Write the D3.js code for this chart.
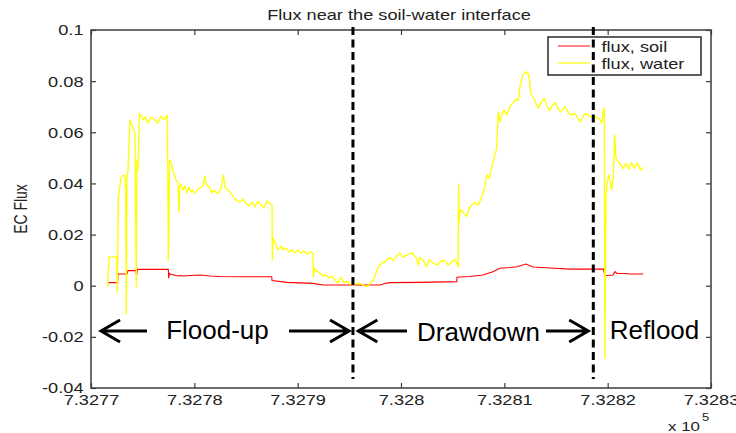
<!DOCTYPE html>
<html><head><meta charset="utf-8">
<script src="https://cdn.jsdelivr.net/npm/d3@7"></script>
<style>body{margin:0;background:#fff;} svg{display:block;font-family:Arial,"Liberation Sans",sans-serif;}</style>
</head><body><svg id="c" width="736" height="433"></svg>
<script>
const xTickValues = [7.3277,7.3278,7.3279,7.3280,7.3281,7.3282,7.3283];
const xTickLabels = ["7.3277","7.3278","7.3279","7.328","7.3281","7.3282","7.3283"];
const yTickValues = [-0.04,-0.02,0,0.02,0.04,0.06,0.08,0.1];
const yTickLabels = ["-0.04","-0.02","0","0.02","0.04","0.06","0.08","0.1"];
const seriesNames = ["flux, soil","flux, water"];

const waterX = [7.3277162,7.3277165,7.3277179,7.3277249,7.3277255,7.3277264,7.3277290,7.3277310,7.3277329,7.3277336,7.3277342,7.3277348,7.3277358,7.3277377,7.3277406,7.3277426,7.3277438,7.3277445,7.3277455,7.3277469,7.3277484,7.3277503,7.3277527,7.3277552,7.3277585,7.3277619,7.3277648,7.3277677,7.3277706,7.3277740,7.3277748,7.3277760,7.3277774,7.3277794,7.3277823,7.3277842,7.3277852,7.3277858,7.3277871,7.3277890,7.3277910,7.3277929,7.3277948,7.3277968,7.3277987,7.3278006,7.3278045,7.3278084,7.3278100,7.3278113,7.3278152,7.3278171,7.3278190,7.3278229,7.3278258,7.3278282,7.3278297,7.3278326,7.3278364,7.3278403,7.3278442,7.3278471,7.3278500,7.3278529,7.3278558,7.3278587,7.3278616,7.3278645,7.3278674,7.3278703,7.3278732,7.3278752,7.3278755,7.3278761,7.3278781,7.3278795,7.3278810,7.3278839,7.3278858,7.3278887,7.3278916,7.3278945,7.3278974,7.3279003,7.3279032,7.3279061,7.3279090,7.3279119,7.3279148,7.3279153,7.3279163,7.3279187,7.3279216,7.3279245,7.3279274,7.3279303,7.3279332,7.3279361,7.3279390,7.3279419,7.3279448,7.3279477,7.3279506,7.3279535,7.3279564,7.3279603,7.3279668,7.3279732,7.3279780,7.3279813,7.3279845,7.3279893,7.3279925,7.3279958,7.3279990,7.3280022,7.3280055,7.3280103,7.3280145,7.3280167,7.3280184,7.3280216,7.3280249,7.3280274,7.3280312,7.3280351,7.3280377,7.3280416,7.3280458,7.3280491,7.3280522,7.3280554,7.3280556,7.3280561,7.3280571,7.3280587,7.3280610,7.3280636,7.3280661,7.3280684,7.3280716,7.3280748,7.3280781,7.3280796,7.3280813,7.3280829,7.3280854,7.3280878,7.3280900,7.3280926,7.3280942,7.3280958,7.3280974,7.3280997,7.3281023,7.3281055,7.3281087,7.3281120,7.3281135,7.3281151,7.3281178,7.3281210,7.3281239,7.3281255,7.3281280,7.3281306,7.3281329,7.3281352,7.3281384,7.3281410,7.3281435,7.3281458,7.3281490,7.3281522,7.3281545,7.3281587,7.3281619,7.3281652,7.3281684,7.3281732,7.3281780,7.3281812,7.3281829,7.3281877,7.3281926,7.3281942,7.3281958,7.3281967,7.3281974,7.3281984,7.3281996,7.3282010,7.3282022,7.3282039,7.3282054,7.3282068,7.3282080,7.3282103,7.3282126,7.3282151,7.3282177,7.3282203,7.3282232,7.3282258,7.3282287,7.3282320,7.3282345];
const waterY = [-0.0004,0.0054,0.0113,0.0113,-0.0025,0.0343,0.0421,0.0433,0.0429,0.0374,-0.0111,0.0413,0.0452,0.0648,0.0617,0.0597,-0.0005,0.0491,0.0452,0.0674,0.0667,0.0648,0.0660,0.0636,0.0660,0.0648,0.0636,0.0664,0.0648,0.0667,0.0100,0.0491,0.0484,0.0452,0.0413,0.0402,0.0288,0.0386,0.0398,0.0374,0.0390,0.0362,0.0386,0.0366,0.0374,0.0362,0.0382,0.0390,0.0429,0.0398,0.0382,0.0362,0.0374,0.0359,0.0382,0.0433,0.0382,0.0374,0.0355,0.0335,0.0327,0.0339,0.0323,0.0312,0.0327,0.0308,0.0331,0.0316,0.0304,0.0331,0.0323,0.0316,0.0100,0.0187,0.0171,0.0155,0.0140,0.0155,0.0140,0.0147,0.0132,0.0140,0.0128,0.0140,0.0128,0.0136,0.0124,0.0132,0.0128,0.0035,0.0068,0.0057,0.0050,0.0038,0.0042,0.0030,0.0038,0.0022,0.0011,0.0034,0.0011,0.0018,0.0007,0.0003,0.0007,0.0009,-0.0004,0.0022,0.0074,0.0088,0.0094,0.0111,0.0098,0.0116,0.0127,0.0111,0.0120,0.0129,0.0111,0.0081,0.0111,0.0098,0.0074,0.0103,0.0088,0.0081,0.0094,0.0100,0.0081,0.0094,0.0103,0.0074,0.0398,0.0245,0.0296,0.0296,0.0283,0.0270,0.0303,0.0316,0.0325,0.0316,0.0348,0.0368,0.0387,0.0433,0.0420,0.0465,0.0498,0.0537,0.0680,0.0641,0.0667,0.0687,0.0667,0.0700,0.0719,0.0729,0.0726,0.0778,0.0824,0.0837,0.0824,0.0752,0.0737,0.0713,0.0694,0.0713,0.0733,0.0707,0.0684,0.0700,0.0716,0.0690,0.0680,0.0700,0.0676,0.0667,0.0674,0.0641,0.0674,0.0667,0.0661,0.0661,0.0651,0.0635,0.0687,0.0694,-0.0284,0.0348,0.0400,0.0433,0.0413,0.0374,0.0426,0.0589,0.0498,0.0485,0.0472,0.0459,0.0479,0.0455,0.0481,0.0459,0.0481,0.0452,0.0463];

const soilX = [7.3277167,7.3277258,7.3277261,7.3277348,7.3277358,7.3277433,7.3277442,7.3277448,7.3277748,7.3277752,7.3277758,7.3277774,7.3277803,7.3277842,7.3277861,7.3277890,7.3277958,7.3278055,7.3278152,7.3278248,7.3278442,7.3278749,7.3278752,7.3278897,7.3279148,7.3279245,7.3279797,7.3279845,7.3279893,7.3280184,7.3280539,7.3280542,7.3280571,7.3280668,7.3280793,7.3280890,7.3280958,7.3281055,7.3281122,7.3281210,7.3281277,7.3281442,7.3281635,7.3281958,7.3281974,7.3282051,7.3282071,7.3282090,7.3282168,7.3282216,7.3282345];
const soilY = [0.0012,0.0012,0.0046,0.0046,0.0059,0.0059,0.0042,0.0064,0.0064,0.0029,0.0048,0.0045,0.0042,0.0038,0.0040,0.0038,0.0040,0.0042,0.0038,0.0036,0.0035,0.0035,0.0020,0.0013,0.0009,0.0003,0.0003,0.0009,0.0012,0.0013,0.0016,0.0033,0.0034,0.0036,0.0042,0.0055,0.0068,0.0071,0.0074,0.0085,0.0073,0.0069,0.0065,0.0065,0.0039,0.0042,0.0055,0.0048,0.0048,0.0046,0.0046];

const phaseBoundaries = [7.3279535, 7.3281861];
const boundaryBottom = -0.0365;
const phaseLabels = ["Flood-up","Drawdown","Reflood"];
const phaseLabelX = [7.3278224, 7.3280750, 7.3282453];
const phaseLabelY = [-0.0208, -0.0218, -0.0208];
const arrowTipX  = [7.3277097, 7.3279497, 7.3279587, 7.3281812];
const arrowTailX = [7.3277542, 7.3278916, 7.3280058, 7.3281403];
const arrowY = -0.0177;

const svg = d3.select("#c");
const M = {l:91, t:30, r:711, b:388};
const x = d3.scaleLinear().domain([7.3277,7.3283]).range([M.l,M.r]);
const y = d3.scaleLinear().domain([-0.04,0.1]).range([M.b,M.t]);
const SX = 1.3;
const axisColor = "#3c3c3c";
const font = 'Arial,"Liberation Sans",sans-serif';

svg.append("rect").attr("width",736).attr("height",433).attr("fill","#fff");

// axes
const gx = svg.append("g").attr("transform",`translate(0,${M.b})`)
  .call(d3.axisBottom(x).tickValues(xTickValues).tickFormat((d,i)=>xTickLabels[i]).tickSizeInner(-5).tickSizeOuter(0));
const gy = svg.append("g").attr("transform",`translate(${M.l},0)`)
  .call(d3.axisLeft(y).tickValues(yTickValues).tickFormat((d,i)=>yTickLabels[i]).tickSizeInner(-5).tickSizeOuter(0));
const gt = svg.append("g").attr("transform",`translate(0,${M.t})`)
  .call(d3.axisTop(x).tickValues(xTickValues).tickFormat("").tickSizeInner(-5).tickSizeOuter(0));
const gr = svg.append("g").attr("transform",`translate(${M.r},0)`)
  .call(d3.axisRight(y).tickValues(yTickValues).tickFormat("").tickSizeInner(-5).tickSizeOuter(0));
[gx,gy,gt,gr].forEach(g=>{
  g.attr("font-family",font).attr("font-size",14);
  g.select(".domain").remove();
  g.selectAll("line").attr("stroke",axisColor).attr("stroke-width",1.2);
});
gx.selectAll("text").attr("y",0).attr("dy",0).attr("fill","#222")
  .attr("transform",`translate(0,17) scale(${SX},1)`);
gy.selectAll("text").attr("x",0).attr("dy","0.35em").attr("fill","#222")
  .attr("transform",`translate(-7.5,0) scale(${SX},1)`);
gt.selectAll("text").remove(); gr.selectAll("text").remove();

// frame
svg.append("rect").attr("x",M.l).attr("y",M.t).attr("width",M.r-M.l).attr("height",M.b-M.t)
  .attr("fill","none").attr("stroke",axisColor).attr("stroke-width",1.5);

// data lines
const line = (xs,ys)=> d3.line().x(i=>x(xs[i])).y(i=>y(ys[i]))(d3.range(Math.min(xs.length,ys.length)));
svg.append("path").attr("d",line(soilX,soilY)).attr("fill","none").attr("stroke","#ff0000").attr("stroke-width",1.1);
svg.append("path").attr("d",line(waterX,waterY)).attr("fill","none").attr("stroke","#ffff00").attr("stroke-width",1.3).attr("stroke-linejoin","round");

// title and labels
svg.append("text").attr("transform",`translate(399,19.5) scale(${SX},1)`).attr("text-anchor","middle")
  .attr("font-family",font).attr("font-size",14).attr("fill","#222").text("Flux near the soil-water interface");
svg.append("text").attr("transform",`translate(27,209) scale(${SX},1) rotate(-90)`).attr("text-anchor","middle")
  .attr("font-family",font).attr("font-size",14).attr("fill","#222").text("EC Flux");
svg.append("text").attr("transform",`translate(668,431) scale(${SX},1)`)
  .attr("font-family",font).attr("font-size",13).attr("fill","#222").text("x 10");
svg.append("text").attr("transform",`translate(702,421) scale(${SX},1)`)
  .attr("font-family",font).attr("font-size",10).attr("fill","#222").text("5");

// legend
const lg = svg.append("g");
lg.append("rect").attr("x",548).attr("y",37).attr("width",153).attr("height",38)
  .attr("fill","#fff").attr("stroke","#2a2a2a").attr("stroke-width",1.5);
const legColors = ["#ff3030","#ffff00"];
seriesNames.forEach((n,i)=>{
  lg.append("line").attr("x1",558).attr("x2",590).attr("y1",46+i*17).attr("y2",46+i*17)
    .attr("stroke",legColors[i]).attr("stroke-width",1.2);
  lg.append("text").attr("transform",`translate(601.5,${52+i*16.5}) scale(${SX},1)`)
    .attr("font-family",font).attr("font-size",14).attr("fill","#222").text(n);
});

// phase boundaries
phaseBoundaries.forEach(b=>{
  svg.append("line").attr("x1",x(b)).attr("x2",x(b)).attr("y1",y(0.1)-3).attr("y2",y(boundaryBottom))
    .attr("stroke","#000").attr("stroke-width",3).attr("stroke-dasharray","8,4.5");
});

// arrows
arrowTipX.forEach((t,i)=>{
  const tx = x(t), sx = x(arrowTailX[i]), yy = y(arrowY);
  const dir = Math.sign(sx-tx);
  svg.append("path")
    .attr("d",`M${sx},${yy}H${tx}M${tx+dir*19},${yy-11}L${tx},${yy}L${tx+dir*19},${yy+11}`)
    .attr("fill","none").attr("stroke","#000").attr("stroke-width",3).attr("stroke-linejoin","miter");
});
phaseLabels.forEach((p,i)=>{
  svg.append("text").attr("x",x(phaseLabelX[i])).attr("y",y(phaseLabelY[i])).attr("text-anchor","middle")
    .attr("font-family",font).attr("font-size",26).attr("fill","#000").text(p);
});
</script></body></html>
